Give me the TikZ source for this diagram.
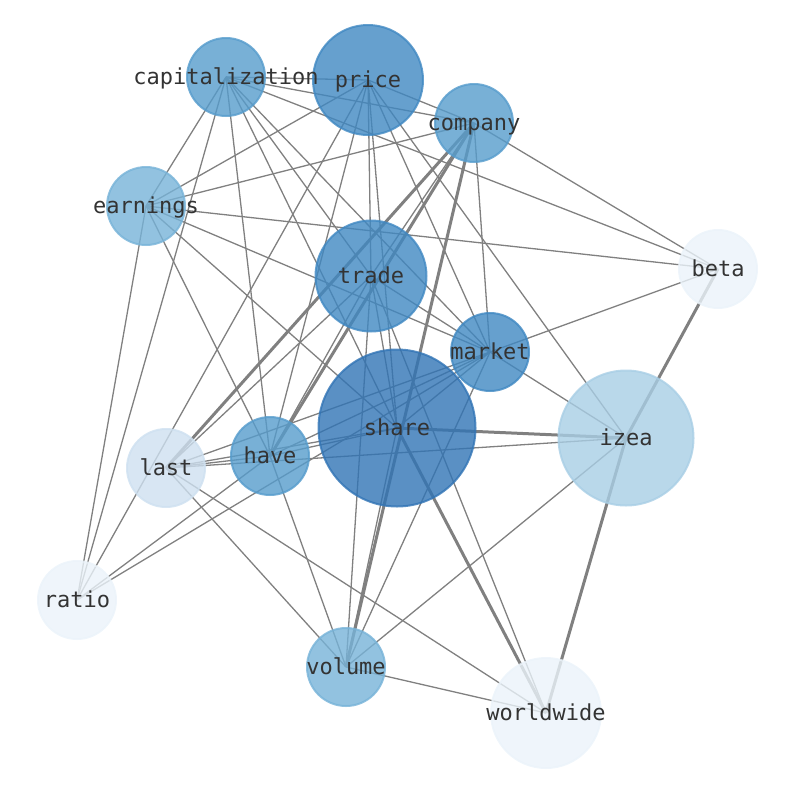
\documentclass[tikz,border=0pt]{standalone}
\usepackage{fontspec}
\setmonofont{DejaVu Sans Mono}
\pgfdeclarelayer{bg}
\pgfsetlayers{bg,main}
\definecolor{cA}{RGB}{49,116,181}
\definecolor{cB}{RGB}{64,136,194}
\definecolor{cC}{RGB}{86,156,204}
\definecolor{cD}{RGB}{119,179,216}
\definecolor{cE}{RGB}{168,206,229}
\definecolor{cF}{RGB}{206,224,240}
\definecolor{cG}{RGB}{235,243,250}
\definecolor{txt}{RGB}{51,51,51}
\definecolor{edgegray}{RGB}{128,128,128}
\tikzset{
  wnode/.style={circle, inner sep=0pt, minimum size=#1, fill opacity=0.8, draw opacity=0.8,
    line width=2pt},
  lbl/.style={inner sep=0pt, text=txt, anchor=base, yshift=-7.5pt,
    font=\ttfamily\fontsize{22}{26}\selectfont},
  colA/.style={fill=cA, draw=cA},
  colB/.style={fill=cB, draw=cB},
  colC/.style={fill=cC, draw=cC},
  colD/.style={fill=cD, draw=cD},
  colE/.style={fill=cE, draw=cE},
  colF/.style={fill=cF, draw=cF},
  colG/.style={fill=cG, draw=cG},
  edge/.style={draw=edgegray, line width=1.3pt},
  thickedge/.style={draw=edgegray, line width=3pt},
}
\begin{document}
\begin{tikzpicture}[x=1pt,y=-1pt]
\useasboundingbox (0,0) rectangle (794,790);
\node[wnode=78pt, colC] (capitalization) at (226,77) {};
\node[wnode=110pt, colB] (price) at (368,80) {};
\node[wnode=78pt, colC] (company) at (474,123) {};
\node[wnode=78pt, colD] (earnings) at (146,206) {};
\node[wnode=78pt, colG] (beta) at (718,269) {};
\node[wnode=111pt, colB] (trade) at (371,276) {};
\node[wnode=78pt, colB] (market) at (490,352) {};
\node[wnode=157pt, colA] (share) at (397,428) {};
\node[wnode=135pt, colE] (izea) at (626,438) {};
\node[wnode=78pt, colC] (have) at (270,456) {};
\node[wnode=78pt, colF] (last) at (166,468) {};
\node[wnode=78pt, colG] (ratio) at (77,600) {};
\node[wnode=78pt, colD] (volume) at (346,667) {};
\node[wnode=110pt, colG] (worldwide) at (546,713) {};
\foreach \n in {capitalization,price,company,earnings,beta,trade,market,share,izea,have,last,ratio,volume,worldwide}
  \node[lbl] (\n-label) at (\n) {\n};
\begin{pgfonlayer}{bg}
\foreach \a/\b in {capitalization/price, capitalization/company, capitalization/beta,
  capitalization/earnings, capitalization/ratio, capitalization/have, capitalization/share,
  capitalization/trade, capitalization/market,
  price/company, price/earnings, price/ratio, price/have, price/trade, price/share,
  price/market, price/izea,
  company/earnings, company/beta, company/market, company/trade,
  earnings/beta, earnings/market, earnings/share, earnings/have, earnings/ratio,
  beta/market,
  trade/market, trade/share, trade/have, trade/last, trade/volume, trade/worldwide,
  market/share, market/have, market/last, market/ratio, market/volume, market/izea,
  share/have, share/last, share/volume,
  izea/last, izea/volume,
  have/last, have/ratio, have/volume,
  last/volume, last/worldwide,
  volume/worldwide}
  \draw[edge] (\a.center) -- (\b.center);
\foreach \a/\b in {company/have, company/last, company/volume, beta/izea,
  share/izea, share/worldwide, izea/worldwide}
  \draw[thickedge] (\a.center) -- (\b.center);
\end{pgfonlayer}
\end{tikzpicture}
\end{document}
